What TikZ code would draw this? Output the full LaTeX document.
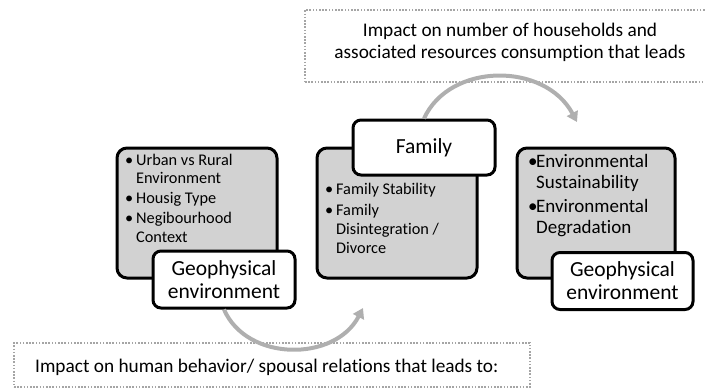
\documentclass[tikz,border=0pt]{standalone}
\usepackage{fontspec}
\setmainfont{Carlito}[Ligatures=NoCommon]
\usetikzlibrary{arrows.meta}
\definecolor{boxgrey}{RGB}{210,210,210}
\definecolor{arrowgrey}{RGB}{175,175,175}
\definecolor{dotgrey}{RGB}{165,165,165}
\tikzset{
  greybox/.style={draw=black, line width=3pt, fill=boxgrey, rounded corners=10pt, inner sep=0pt},
  labelbox/.style={draw=black, line width=3pt, fill=white, rounded corners=8pt, inner sep=0pt, align=center, font=\fontsize{21.5}{23}\selectfont},
  dotbox/.style={draw=dotgrey, line width=1.6pt, dash pattern=on 1.6pt off 1.6pt, inner sep=0pt},
  dottext/.style={inner sep=0pt, align=center, font=\fontsize{19.3}{22}\selectfont},
  bullettext/.style={anchor=north west, inner sep=0pt},
  bigarrow/.style={draw=arrowgrey, line width=4pt, -{Triangle[length=10pt,width=12pt]}}
}
\begin{document}
\begin{tikzpicture}[x=1pt,y=-1pt]
\useasboundingbox (0,0) rectangle (705,389);
% dotted boxes
\node[dotbox, minimum width=407pt, minimum height=72pt] (topbox) at (508.5,46) {};
\node[dottext] (toptext) at (510,42) {Impact on number of households and\\associated resources consumption that leads};
\node[dotbox, minimum width=516pt, minimum height=44pt] (botbox) at (272,365) {};
\node[dottext, anchor=west] (bottext) at (35,367) {Impact on human behavior/ spousal relations that leads to:};
% grey boxes
\node[greybox, minimum width=160pt, minimum height=130pt] (g1) at (197,213) {};
\node[greybox, minimum width=160pt, minimum height=130pt] (g2) at (397,213) {};
\node[greybox, minimum width=158pt, minimum height=130pt] (g3) at (596,213) {};
% free ends of connectors
\coordinate (topend) at (577,122);
\coordinate (botend) at (363,308);
% bullet texts
\node[bullettext, font=\fontsize{16.3}{18.5}\selectfont] (t1) at (125,152)
  {\begin{tabular}{@{}p{11pt}@{}l@{}}
   \textbullet & Urban vs Rural\\
   & Environment\\[1.5pt]
   \textbullet & Housig Type\\[1.5pt]
   \textbullet & Negibourhood\\
   & Context
   \end{tabular}};
\node[bullettext, font=\fontsize{16.3}{19}\selectfont] (t2) at (325,181)
  {\begin{tabular}{@{}p{11pt}@{}l@{}}
   \textbullet & Family Stability\\[2pt]
   \textbullet & Family\\
   & Disintegration /\\
   & Divorce
   \end{tabular}};
\node[bullettext, font=\fontsize{19}{20.5}\selectfont] (t3) at (528,153)
  {\begin{tabular}{@{}p{8pt}@{}l@{}}
   \textbullet & Environmental\\
   & Sustainability\\[4pt]
   \textbullet & Environmental\\
   & Degradation
   \end{tabular}};
% label boxes
\node[labelbox, minimum width=142pt, minimum height=57pt] (l1) at (224,279.5) {Geophysical\\environment};
\node[labelbox, minimum width=142pt, minimum height=55pt] (l2) at (424,147.5) {Family};
\node[labelbox, minimum width=141pt, minimum height=57pt] (l3) at (622.5,281) {Geophysical\\environment};
% connectors
\draw[bigarrow] (l2.north) .. controls (450,62) and (545,62) .. (topend);
\draw[bigarrow] (l1.south) .. controls (247,362) and (335,362) .. (botend);
\end{tikzpicture}
\end{document}
